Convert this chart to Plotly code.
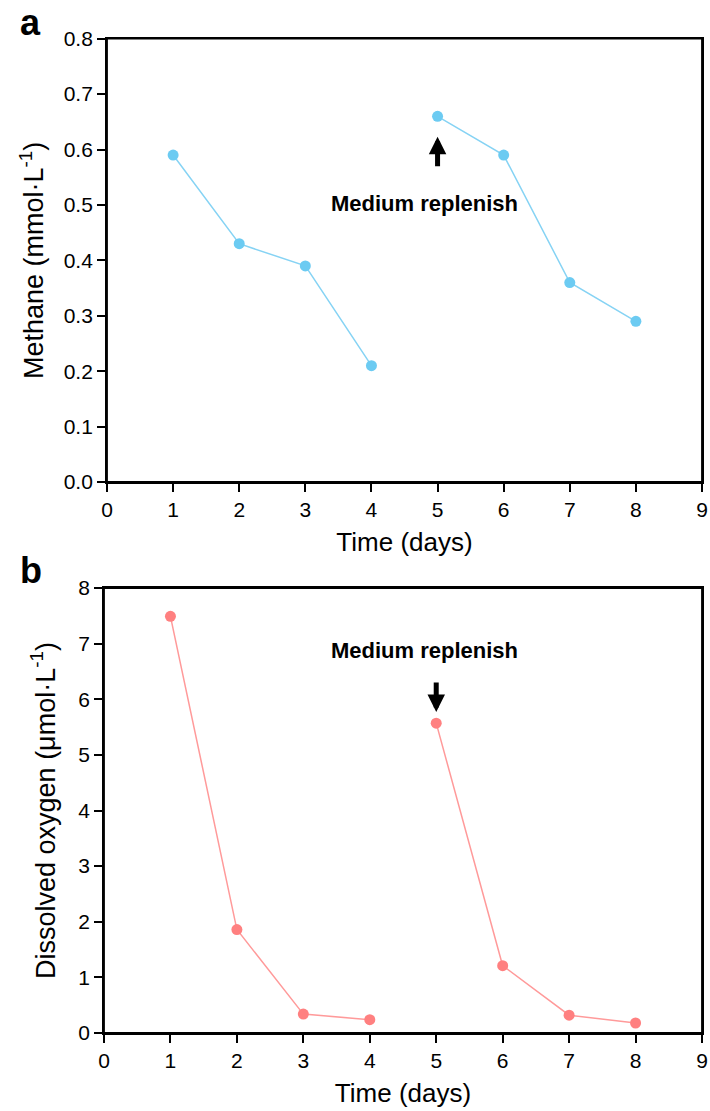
import plotly.graph_objects as go
from plotly.subplots import make_subplots

# ---- data ----
days = [1, 2, 3, 4, 5, 6, 7, 8]
methane = [0.59, 0.43, 0.39, 0.21, 0.66, 0.59, 0.36, 0.29]          # mmol·L-1
oxygen = [7.49, 1.86, 0.34, 0.24, 5.57, 1.21, 0.32, 0.18]           # μmol·L-1
x_ticks = [0, 1, 2, 3, 4, 5, 6, 7, 8, 9]
methane_ticks = [0.0, 0.1, 0.2, 0.3, 0.4, 0.5, 0.6, 0.7, 0.8]
oxygen_ticks = [0, 1, 2, 3, 4, 5, 6, 7, 8]
replenish_day = 5
split = 4  # first cycle = days 1-4, second cycle = days 5-8

BLUE = "#6CCBF2"
BLUE_LINE = "#86D3F4"
RED = "#FF8080"
RED_LINE = "#FF9A9A"
FONT = "Liberation Sans, Arial, sans-serif"

W, H = 710, 1111

fig = make_subplots(rows=2, cols=1)

for seg in (slice(0, split), slice(split, None)):
    fig.add_trace(go.Scatter(x=days[seg], y=methane[seg], mode="lines+markers",
                             line=dict(color=BLUE_LINE, width=1.5),
                             marker=dict(color=BLUE, size=11),
                             showlegend=False), row=1, col=1)
    fig.add_trace(go.Scatter(x=days[seg], y=oxygen[seg], mode="lines+markers",
                             line=dict(color=RED_LINE, width=1.5),
                             marker=dict(color=RED, size=11),
                             showlegend=False), row=2, col=1)

axis_common = dict(showline=True, linecolor="black", linewidth=1.8, mirror=True,
                   ticks="outside", ticklen=8, tickwidth=1.6, tickcolor="black",
                   showgrid=False, zeroline=False,
                   tickfont=dict(family=FONT, size=21, color="black"),
                   automargin=False)

xtitle_font = dict(family=FONT, size=26, color="black")
ytitle_font = dict(family=FONT, size=27, color="black")

fig.update_xaxes(**axis_common, range=[0, 9], tickvals=x_ticks,
                 title=dict(text="Time (days)", font=xtitle_font, standoff=13))
fig.update_xaxes(domain=[107 / W, 702 / W], row=1, col=1)
fig.update_xaxes(domain=[104 / W, 702 / W], row=2, col=1)

fig.update_yaxes(**axis_common, row=1, col=1, range=[0, 0.8], tickvals=methane_ticks,
                 tickformat=".1f", domain=[1 - 482 / H, 1 - 38.7 / H],
                 title=dict(text="Methane (mmol·L<sup>-1</sup>)", font=ytitle_font, standoff=12))
fig.update_yaxes(**axis_common, row=2, col=1, range=[0, 8], tickvals=oxygen_ticks,
                 domain=[1 - 1033 / H, 1 - 588 / H],
                 title=dict(text="Dissolved oxygen (μmol·L<sup>-1</sup>)", font=ytitle_font, standoff=15))

# frame around each plot area (ensures the right-hand border is drawn)
for xr, yr in (("x domain", "y domain"), ("x2 domain", "y2 domain")):
    fig.add_shape(type="rect", xref=xr, yref=yr, x0=0, x1=1, y0=0, y1=1,
                  line=dict(color="black", width=1.8), fillcolor="rgba(0,0,0,0)", layer="above")

# panel letters
fig.add_annotation(text="<b>a</b>", xref="paper", yref="paper", x=18 / W, y=1 - 22 / H,
                   xanchor="left", yanchor="middle", showarrow=False,
                   font=dict(family=FONT, size=36, color="black"))
fig.add_annotation(text="<b>b</b>", xref="paper", yref="paper", x=18 / W, y=1 - 570 / H,
                   xanchor="left", yanchor="middle", showarrow=False,
                   font=dict(family=FONT, size=36, color="black"))

label_font = dict(family=FONT, size=22, color="black")
# panel a: text below, arrow pointing up to the replenish point
fig.add_annotation(text="<b>Medium replenish</b>", xref="x", yref="y", x=4.8, y=0.502,
                   showarrow=False, font=label_font)
fig.add_annotation(text="", xref="x", yref="y", x=replenish_day, y=0.623,
                   axref="x", ayref="y", ax=replenish_day, ay=0.567,
                   showarrow=True, arrowhead=2, arrowsize=0.7, arrowwidth=5,
                   arrowcolor="black", standoff=0)
# panel b: text above, arrow pointing down to the replenish point
fig.add_annotation(text="<b>Medium replenish</b>", xref="x2", yref="y2", x=4.82, y=6.87,
                   showarrow=False, font=label_font)
fig.add_annotation(text="", xref="x2", yref="y2", x=replenish_day, y=5.77,
                   axref="x2", ayref="y2", ax=replenish_day, ay=6.33,
                   showarrow=True, arrowhead=2, arrowsize=0.7, arrowwidth=5,
                   arrowcolor="black", standoff=0)

fig.update_layout(width=W, height=H, margin=dict(l=0, r=0, t=0, b=0),
                  paper_bgcolor="white", plot_bgcolor="white",
                  font=dict(family=FONT, color="black"))

fig.write_html("out.html", config={"displayModeBar": False},
               post_script="document.body.style.margin='0';")
